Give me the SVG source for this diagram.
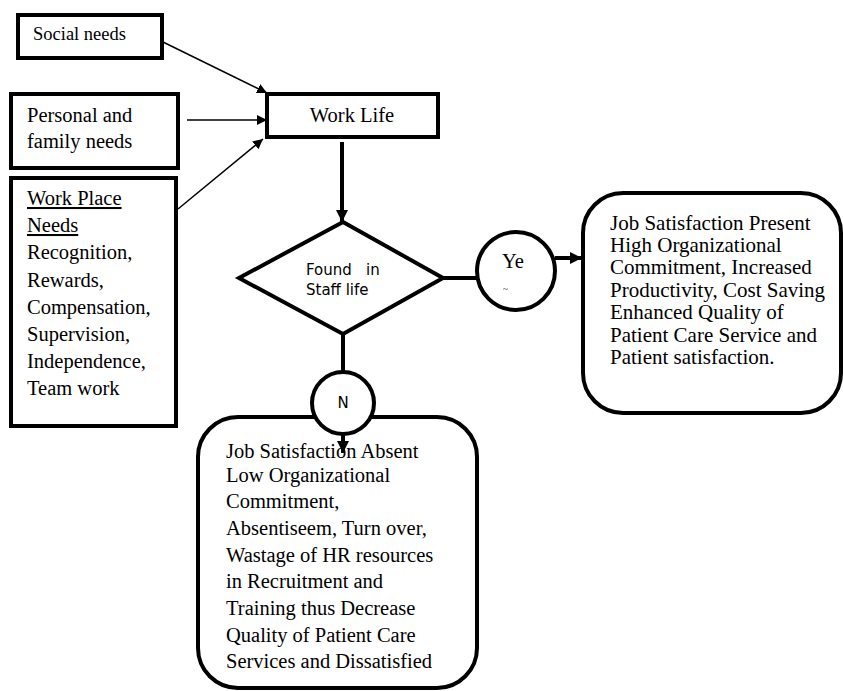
<svg xmlns="http://www.w3.org/2000/svg" width="843" height="691" viewBox="0 0 843 691">
<defs>
<marker id="ah" viewBox="0 0 10 10" refX="10" refY="5" markerWidth="10" markerHeight="10" markerUnits="userSpaceOnUse" orient="auto">
<path d="M0,0 L10,5 L0,10 z" fill="#000"/>
</marker>
<marker id="ahb" viewBox="0 0 10 10" refX="10" refY="5" markerWidth="12" markerHeight="12" markerUnits="userSpaceOnUse" orient="auto">
<path d="M0,0 L10,5 L0,10 z" fill="#000"/>
</marker>
</defs>
<style>
.box{fill:#fff;stroke:#000;stroke-width:4}
.t{font-family:"Liberation Serif","Times New Roman",serif;font-size:20.5px;fill:#000}
.r{font-size:21px}
.s{font-family:"DejaVu Sans","Liberation Sans",sans-serif;font-size:15px;fill:#000}
.thin{stroke:#000;stroke-width:1.5;fill:none}
.thick{stroke:#000;stroke-width:4;fill:none}
</style>
<rect width="843" height="691" fill="#fff"/>
<g id="connectors">
<line class="thin" x1="163" y1="42" x2="267" y2="93" marker-end="url(#ah)"/>
<line class="thin" x1="187" y1="120" x2="267" y2="120" marker-end="url(#ah)"/>
<line class="thin" x1="178" y1="209" x2="263" y2="139" marker-end="url(#ah)"/>
<line class="thick" x1="342" y1="142" x2="342" y2="222" marker-end="url(#ahb)"/>
<line class="thick" x1="443" y1="278" x2="478" y2="278"/>
<line class="thick" x1="555" y1="258" x2="582" y2="258" marker-end="url(#ahb)"/>
<line class="thick" x1="343" y1="334" x2="343" y2="373"/>
</g>
<g id="social">
<rect class="box" x="18" y="15" width="144" height="43"/>
<text class="t" x="33" y="40" style="font-size:18.5px">Social needs</text>
</g>
<g id="personal">
<rect class="box" x="11" y="94" width="167" height="74"/>
<text class="t" x="27" y="122">Personal and</text>
<text class="t" x="27" y="148">family needs</text>
</g>
<g id="workplace">
<rect class="box" x="11" y="178" width="165" height="248"/>
<text class="t" x="27" y="205" text-decoration="underline">Work Place</text>
<text class="t" x="27" y="232" text-decoration="underline">Needs</text>
<text class="t" x="27" y="259">Recognition,</text>
<text class="t" x="27" y="287">Rewards,</text>
<text class="t" x="27" y="314">Compensation,</text>
<text class="t" x="27" y="341">Supervision,</text>
<text class="t" x="27" y="368">Independence,</text>
<text class="t" x="27" y="395">Team work</text>
</g>
<g id="worklife">
<rect class="box" x="267" y="94" width="171" height="43"/>
<text class="t" x="352" y="122" text-anchor="middle">Work Life</text>
</g>
<g id="decision">
<polygon class="box" points="343,222 443,278 343,334 239,278"/>
<text class="s" x="306" y="275">Found</text>
<text class="s" x="366" y="275">in</text>
<text class="s" x="306" y="295">Staff life</text>
</g>
<g id="yes">
<circle class="box" cx="516" cy="271" r="39"/>
<text class="t" x="502" y="268">Ye</text>
<text class="t" x="503" y="292" style="font-size:9px">~</text>
</g>
<g id="present">
<rect class="box" x="583" y="193" width="258" height="220" rx="40" ry="40"/>
<text class="t r" x="610" y="230">Job Satisfaction Present</text>
<text class="t r" x="610" y="252">High Organizational</text>
<text class="t r" x="610" y="274">Commitment, Increased</text>
<text class="t r" x="610" y="297">Productivity, Cost Saving</text>
<text class="t r" x="610" y="319">Enhanced Quality of</text>
<text class="t r" x="610" y="342">Patient Care Service and</text>
<text class="t r" x="610" y="364">Patient satisfaction.</text>
</g>
<g id="absent">
<rect class="box" x="198" y="417" width="279" height="271" rx="40" ry="40"/>
<text class="t" x="226" y="458">Job Satisfaction Absent</text>
<text class="t" x="226" y="482">Low Organizational</text>
<text class="t" x="226" y="508">Commitment,</text>
<text class="t" x="226" y="535">Absentiseem, Turn over,</text>
<text class="t" x="226" y="562">Wastage of HR resources</text>
<text class="t" x="226" y="588">in Recruitment and</text>
<text class="t" x="226" y="615">Training thus Decrease</text>
<text class="t" x="226" y="642">Quality of Patient Care</text>
<text class="t" x="226" y="668">Services and Dissatisfied</text>
</g>
<g id="no">
<circle class="box" cx="343" cy="403" r="31"/>
<text class="s" x="343" y="408" text-anchor="middle">N</text>
</g>
<g id="connectors-top">
<line class="thick" x1="343" y1="434" x2="343" y2="453" marker-end="url(#ahb)"/>
</g>
</svg>
